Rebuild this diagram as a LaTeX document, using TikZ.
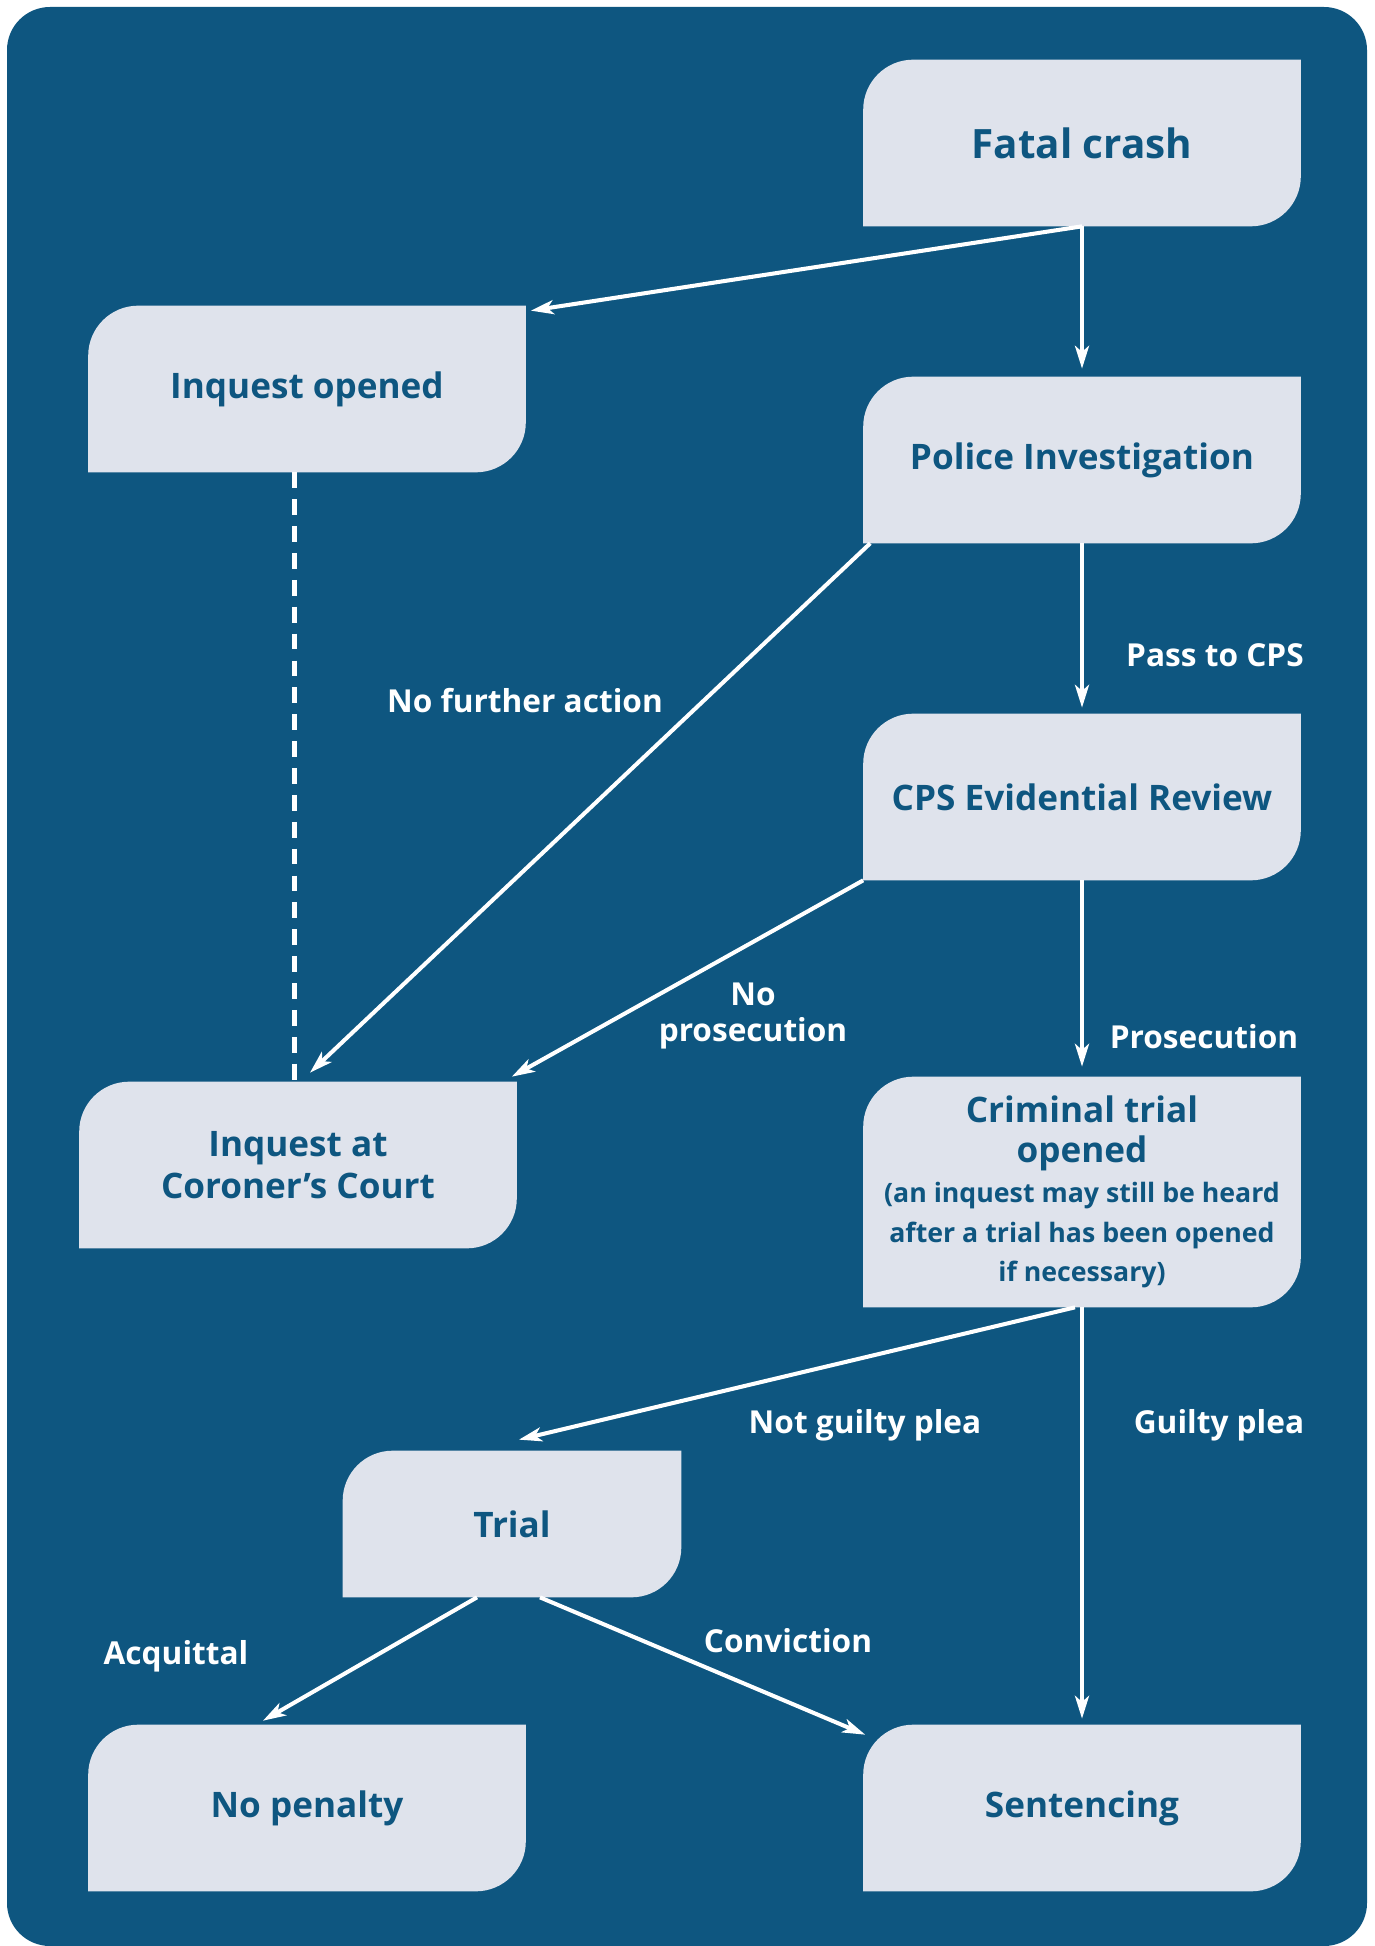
\documentclass[tikz,border=0pt]{standalone}
\usepackage{fontspec}
\setmainfont{Open Sans}
\usetikzlibrary{arrows.meta}
\definecolor{navy}{RGB}{14,86,128}
\definecolor{boxgrey}{RGB}{223,227,236}
\pgfdeclarelayer{background}
\pgfsetlayers{background,main}

\tikzset{
  stage/.style={minimum width=8.74cm, minimum height=3.32cm, inner sep=0pt, align=center,
    text=navy, font=\bfseries\fontsize{20}{24}\selectfont},
  flow/.style={draw=white, line width=2.3pt, -{Stealth[length=13pt,width=8pt,inset=3.5pt]}},
  lbl/.style={text=white, align=center, font=\bfseries\fontsize{18}{20}\selectfont}
}
\newcommand{\notefont}{\fontsize{15.2}{23}\selectfont}
\newcommand{\cornerbox}[1]{%
  \fill[boxgrey] (#1.south west) -- ([yshift=-1cm]#1.north west)
    arc[start angle=180, end angle=90, radius=1cm] -- (#1.north east)
    -- ([yshift=1cm]#1.south east) arc[start angle=0, end angle=-90, radius=1cm] -- cycle;}

\begin{document}
\begin{tikzpicture}[x=0.02cm, y=-0.02cm]
    \useasboundingbox (0,0) rectangle (1375,1946);
    \node[stage, font=\bfseries\fontsize{23}{28}\selectfont] (crash) at (1082,143) {Fatal crash};
    \node[stage] (inquest) at (307,389) {Inquest opened};
    \node[stage] (police) at (1082,460) {Police Investigation};
    \node[stage] (cps) at (1082,797) {CPS Evidential Review};
    \node[stage] (coroner) at (298,1165) {Inquest at\\Coroner’s Court};
    \node[stage, minimum height=4.6cm] (criminal) at (1082,1192) {Criminal trial\\[-1.4pt]opened\\[-1pt]
      {\notefont (an inquest may still be heard}\\[-1.4pt]{\notefont after a trial has been opened}\\[-1.4pt]{\notefont if necessary)}};
    \node[stage, minimum width=6.76cm, minimum height=2.92cm] (trial) at (512,1524) {Trial};
    \node[stage] (nopenalty) at (307,1808) {No penalty};
    \node[stage] (sentencing) at (1082,1808) {Sentencing};

    \begin{pgfonlayer}{background}
      \fill[navy, rounded corners=0.86cm] (7,7) rectangle (1367,1946);
      \foreach \n in {crash,inquest,police,cps,coroner,criminal,trial,nopenalty,sentencing}
        \cornerbox{\n};
    \end{pgfonlayer}

    \draw[flow] (crash.south) -- ([shift={(5,5)}]inquest.north east);
    \draw[flow] (crash.south) -- ([shift={(0,-8)}]police.north);
    \draw[flow] ([shift={(7,0)}]police.south west) -- ([shift={(12,-9)}]coroner.north);
    \draw[white, line width=3pt, dash pattern=on 9pt off 6.3pt] ([xshift=-2]inquest.south -| coroner.north) -- ([xshift=-2]coroner.north);
    \draw[flow] (police.south) -- ([shift={(0,-6)}]cps.north);
    \draw[flow] (cps.south west) -- ([shift={(-5,-5)}]coroner.north east);
    \draw[flow] (cps.south) -- ([shift={(0,-10)}]criminal.north);
    \draw[flow] ([shift={(-7,0)}]criminal.south) -- ([shift={(7,-11)}]trial.north);
    \draw[flow] (criminal.south) -- ([shift={(0,-6)}]sentencing.north);
    \draw[flow] ([shift={(-35,0)}]trial.south) -- ([shift={(-44,-4)}]nopenalty.north);
    \draw[flow] ([shift={(28,0)}]trial.south) -- ([shift={(2,10)}]sentencing.north west);

    \node[lbl] (nfa) at (525,701) {No further action};
    \node[lbl] (passcps) at (1215,655) {Pass to CPS};
    \node[lbl] (noprosec) at (753,1016) {No\\prosecution};
    \node[lbl] (prosec) at (1204,1037) {Prosecution};
    \node[lbl] (notguilty) at (865,1425) {Not guilty plea};
    \node[lbl] (guilty) at (1219,1425) {Guilty plea};
    \node[lbl] (acquit) at (176,1656) {Acquittal};
    \node[lbl] (convict) at (788,1641) {Conviction};
\end{tikzpicture}
\end{document}
